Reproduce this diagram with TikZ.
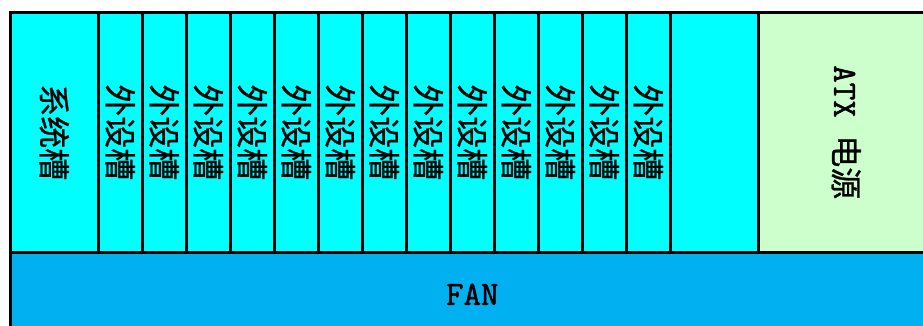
\documentclass[tikz,border=0pt]{standalone}
\usepackage{fontspec}
\newfontfamily\cjk{Noto Sans CJK SC}[FakeBold=0.8]
\newfontfamily\boxmono{Latin Modern Mono}[FakeBold=1.5]
\definecolor{slotcyan}{RGB}{0,255,255}
\definecolor{atxgreen}{RGB}{204,255,204}
\definecolor{fanblue}{RGB}{0,176,240}
\begin{document}
\begin{tikzpicture}[x=1pt,y=-1pt,
    slotbox/.style={draw=black,line width=2.5pt,fill=slotcyan,minimum height=240pt,inner sep=0pt,anchor=north west},
    vlabel/.style={rotate=-90,inner sep=0pt,font=\cjk\fontsize{32}{32}\selectfont}]
  \useasboundingbox (0,0) rectangle (923,325);
  \clip (0,0) rectangle (923,325);
  % system slot
  \node[slotbox,minimum width=88pt] (sys) at (9,11) {};
  \node[vlabel] (sysl) at (sys.center) {系统槽};
  % peripheral slots
  \foreach \i in {1,...,13} {
    \node[slotbox,minimum width=44pt] (ext\i) at ({97+44*(\i-1)},11) {};
    \node[vlabel] (extl\i) at (ext\i.center) {外设槽};
  }
  \node[slotbox,minimum width=88pt] (spare) at (669,11) {};
  % power supply
  \node[slotbox,minimum width=176pt,fill=atxgreen] (atx) at (757,11) {};
  \node[vlabel] (atxl) at (atx.center) {\boxmono\fontsize{34}{34}\selectfont ATX \cjk\fontsize{32}{32}\selectfont 电源};
  % fan
  \node[slotbox,minimum width=924pt,minimum height=84pt,fill=fanblue] (fan) at (9,251) {};
  \node[inner sep=0pt,font=\boxmono\fontsize{34}{34}\selectfont] (fanl) at (fan.center) {FAN};
\end{tikzpicture}
\end{document}
